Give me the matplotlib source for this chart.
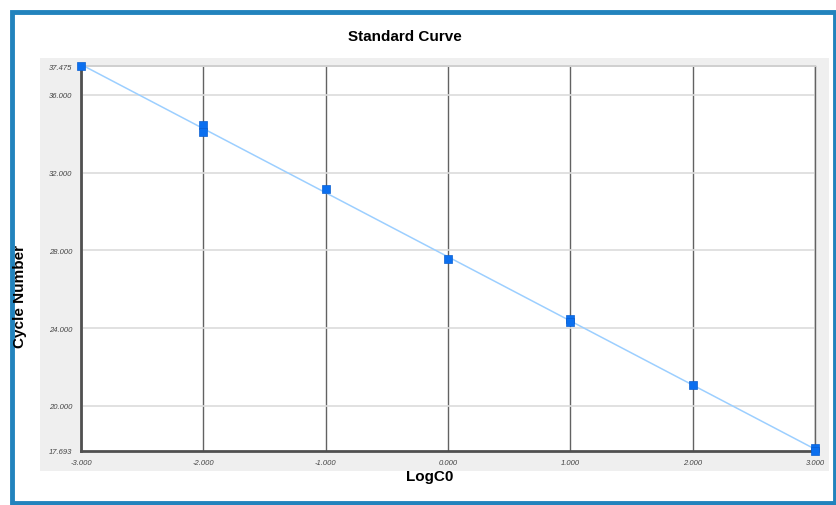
import numpy as np
import matplotlib.pyplot as plt
from matplotlib.patches import Rectangle

plt.rcParams['font.family'] = ['Liberation Sans', 'DejaVu Sans']

# standard wells: log concentration vs. threshold cycle
log_c0 = [-3, -2, -2, -1, 0, 1, 1, 2, 3, 3]
cycles = [37.475, 34.46, 34.10, 31.18, 27.54, 24.46, 24.30, 21.08, 17.85, 17.693]

x_ticks = [-3, -2, -1, 0, 1, 2, 3]
y_ticks = [17.693, 20, 24, 28, 32, 36, 37.475]

W, H = 837, 506
fig = plt.figure(figsize=(W / 100, H / 100), dpi=100)

# blue frame and grey chart panel
fig.patches.append(Rectangle((12 / W, 2 / H), (835 - 12) / W, (493 - 2) / H,
                             transform=fig.transFigure, fill=False,
                             edgecolor='#2283bd', linewidth=3.5, zorder=-1))
fig.patches.append(Rectangle((40 / W, (H - 472) / H), (829 - 40) / W, (472 - 59) / H,
                             transform=fig.transFigure, facecolor='#efefef',
                             edgecolor='none', zorder=-1))

x0, x1 = 81, 815
y0, y1 = 67.3, 451.8
ax = fig.add_axes([x0 / W, (H - y1) / H, (x1 - x0) / W, (y1 - y0) / H])
ax.set_zorder(2)
ax.set_facecolor('white')

xs = np.array(log_c0, dtype=float)
ys = np.array(cycles)
slope, icpt = np.polyfit(xs, ys, 1)
xl = np.array([-3, 3])
ax.plot(xl, slope * xl + icpt, color='#9ccfff', lw=1.1, zorder=3)
ax.plot(xs, ys, 's', color='#0b6fef', markersize=5.8, mec='#0a5fd0', mew=0.5,
        zorder=4, clip_on=False)

ax.set_xlim(-3, 3)
ax.set_ylim(17.693, 37.475)
ax.set_xticks(x_ticks)
ax.set_yticks(y_ticks)
ax.set_xticklabels([f'{v:.3f}' for v in x_ticks])
ax.set_yticklabels([f'{v:.3f}' for v in y_ticks])
ax.tick_params(length=0, labelsize=5.5, labelcolor='#444444', pad=6)
for lab in ax.get_xticklabels() + ax.get_yticklabels():
    lab.set_fontstyle('italic')

for v in x_ticks:
    ax.axvline(v, color='#626262', lw=1.0, zorder=1)
for v in y_ticks[1:]:
    ax.axhline(v, color='#dcdcdc', lw=1.2, zorder=1)

for side in ('left', 'bottom'):
    ax.spines[side].set_color('#505050')
    ax.spines[side].set_linewidth(2)
ax.spines['right'].set_color('#626262')
ax.spines['right'].set_linewidth(1.0)
ax.spines['top'].set_color('#d0d0d0')
ax.spines['top'].set_linewidth(1.4)

fig.text(405 / W, 1 - 37 / H, 'Standard Curve', ha='center', va='center',
         fontsize=11, fontweight='bold')
fig.text(430 / W, 1 - 477 / H, 'LogC0', ha='center', va='center',
         fontsize=11, fontweight='bold')
fig.text(20 / W, 1 - 297 / H, 'Cycle Number', ha='center', va='center',
         rotation=90, fontsize=11, fontweight='bold')

fig.savefig('out.png', dpi=100)
